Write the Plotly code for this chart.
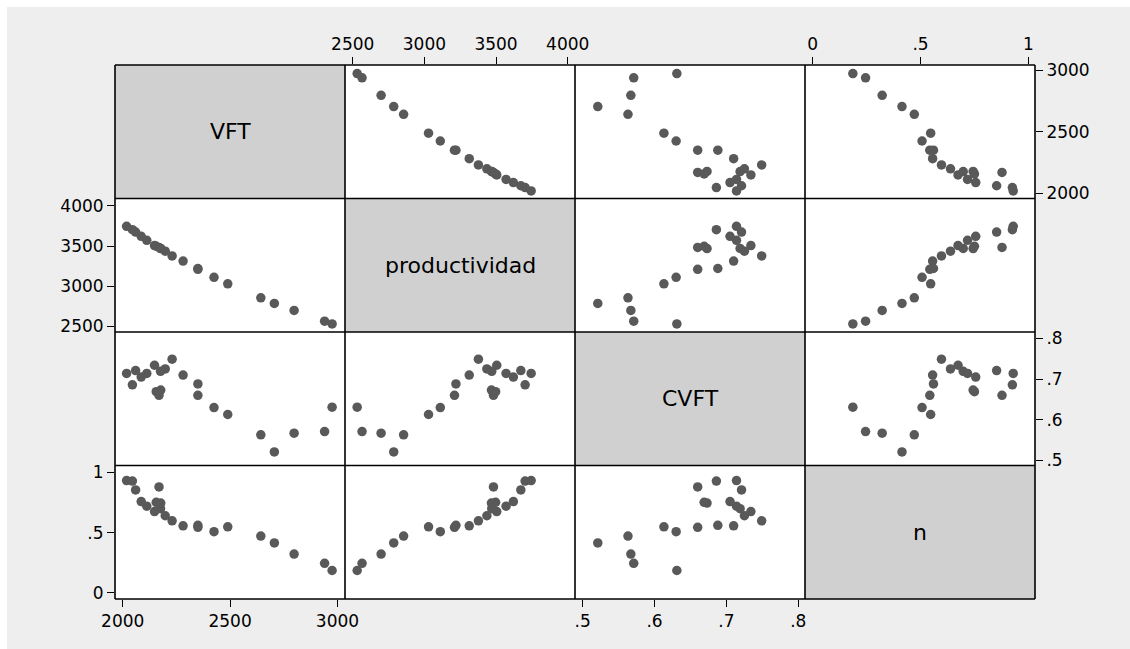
import plotly.graph_objects as go
from plotly.subplots import make_subplots

# Observations (one entry per unit)
VFT = [2975, 2940, 2798, 2706, 2643, 2489, 2425, 2350, 2350, 2281, 2230,
       2198, 2176, 2148, 2177, 2156, 2169, 2112, 2086, 2060, 2045, 2018]
productividad = [2531, 2565, 2698, 2786, 2855, 3029, 3111, 3210, 3220, 3313, 3377,
                 3436, 3470, 3505, 3468, 3497, 3482, 3570, 3621, 3673, 3703, 3745]
CVFT = [0.631, 0.571, 0.567, 0.521, 0.563, 0.613, 0.630, 0.660, 0.688, 0.710, 0.749,
        0.725, 0.719, 0.734, 0.673, 0.669, 0.660, 0.714, 0.705, 0.721, 0.686, 0.714]
n = [0.186, 0.245, 0.322, 0.414, 0.471, 0.547, 0.507, 0.543, 0.560, 0.556, 0.597,
     0.639, 0.698, 0.674, 0.744, 0.750, 0.878, 0.718, 0.756, 0.853, 0.926, 0.930]

var_names = ["VFT", "productividad", "CVFT", "n"]
series = [VFT, productividad, CVFT, n]

# Tick values / labels per variable
tick_vals = {
    "VFT": [2000, 2500, 3000],
    "productividad": [2500, 3000, 3500, 4000],
    "CVFT": [0.5, 0.6, 0.7, 0.8],
    "n": [0, 0.5, 1],
}
tick_text = {
    "VFT": ["2000", "2500", "3000"],
    "productividad": ["2500", "3000", "3500", "4000"],
    "CVFT": [".5", ".6", ".7", ".8"],
    "n": ["0", ".5", "1"],
}

# Axis extents (horizontal / vertical use)
x_ranges = [[1964, 3035], [2446, 4051], [0.4893, 0.8093], [-0.036, 1.031]]
y_ranges = [[1956, 3045], [2430, 4091], [0.4877, 0.8157], [-0.05, 1.055]]

W, H = 1130, 649
ML, MR, MT, MB = 115, 95, 65, 50

fig = make_subplots(rows=4, cols=4, horizontal_spacing=0, vertical_spacing=0)

marker_color = "#595959"
for r in range(1, 5):
    for c in range(1, 5):
        if r == c:
            # empty trace so the diagonal cell's axes get created
            fig.add_trace(go.Scatter(x=[None], y=[None], mode="markers",
                                     showlegend=False, hoverinfo="skip"),
                          row=r, col=c)
            continue
        fig.add_trace(
            go.Scatter(
                x=series[c - 1], y=series[r - 1], mode="markers",
                marker=dict(size=9.5, color=marker_color, line=dict(width=0)),
                showlegend=False, hoverinfo="skip",
            ),
            row=r, col=c,
        )

font_family = "DejaVu Sans"
axis_common = dict(
    showgrid=False, zeroline=False, showline=False,
    ticks="", showticklabels=False, fixedrange=True,
)
for r in range(1, 5):
    for c in range(1, 5):
        fig.update_xaxes(range=x_ranges[c - 1], row=r, col=c, **axis_common)
        fig.update_yaxes(range=y_ranges[r - 1], row=r, col=c, **axis_common)

tick_style = dict(
    ticks="outside", ticklen=7, tickwidth=1.4, tickcolor="black",
    showticklabels=True, tickfont=dict(family=font_family, size=17, color="black"),
)

# Column axes: VFT & CVFT at the bottom, productividad & n on top
for c, (row, side) in enumerate([(4, "bottom"), (1, "top"), (4, "bottom"), (1, "top")], start=1):
    name = var_names[c - 1]
    fig.update_xaxes(tickvals=tick_vals[name], ticktext=tick_text[name], side=side,
                     row=row, col=c, **tick_style)

# Row axes: VFT & CVFT on the right, productividad & n on the left
for r, (col, side) in enumerate([(4, "right"), (1, "left"), (4, "right"), (1, "left")], start=1):
    name = var_names[r - 1]
    fig.update_yaxes(tickvals=tick_vals[name], ticktext=tick_text[name], side=side,
                     row=r, col=col, **tick_style)

shapes = []
annotations = []
for i, name in enumerate(var_names, start=1):
    idx = (i - 1) * 4 + i
    suffix = "" if idx == 1 else str(idx)
    shapes.append(dict(
        type="rect", xref=f"x{suffix} domain", yref=f"y{suffix} domain",
        x0=0, x1=1, y0=0, y1=1, fillcolor="#d0d0d0", line=dict(width=0), layer="below",
    ))
    annotations.append(dict(
        text=name, xref=f"x{suffix} domain", yref=f"y{suffix} domain",
        x=0.5, y=0.5, showarrow=False,
        font=dict(family=font_family, size=22, color="black"),
    ))

# cell borders of the matrix
for k in range(5):
    pos = k / 4
    shapes.append(dict(type="line", xref="paper", yref="paper", x0=pos, x1=pos, y0=0, y1=1,
                       line=dict(color="black", width=1.6), layer="above"))
    shapes.append(dict(type="line", xref="paper", yref="paper", x0=0, x1=1, y0=pos, y1=pos,
                       line=dict(color="black", width=1.6), layer="above"))

# thin white border along the top and left edges of the graph region
pw = W - ML - MR
ph = H - MT - MB
def px_x(p):
    return (p - ML) / pw
def px_y(p):
    return (H - MB - p) / ph
shapes.append(dict(type="rect", xref="paper", yref="paper",
                   x0=px_x(0), x1=px_x(7), y0=px_y(H), y1=px_y(0),
                   fillcolor="white", line=dict(width=0), layer="above"))
shapes.append(dict(type="rect", xref="paper", yref="paper",
                   x0=px_x(0), x1=px_x(W), y0=px_y(7), y1=px_y(0),
                   fillcolor="white", line=dict(width=0), layer="above"))

fig.update_layout(
    width=W, height=H,
    margin=dict(l=ML, r=MR, t=MT, b=MB, pad=0),
    paper_bgcolor="#eeeeee", plot_bgcolor="white",
    shapes=shapes, annotations=annotations,
    font=dict(family=font_family, color="black"),
)

fig.write_html("out.html")
